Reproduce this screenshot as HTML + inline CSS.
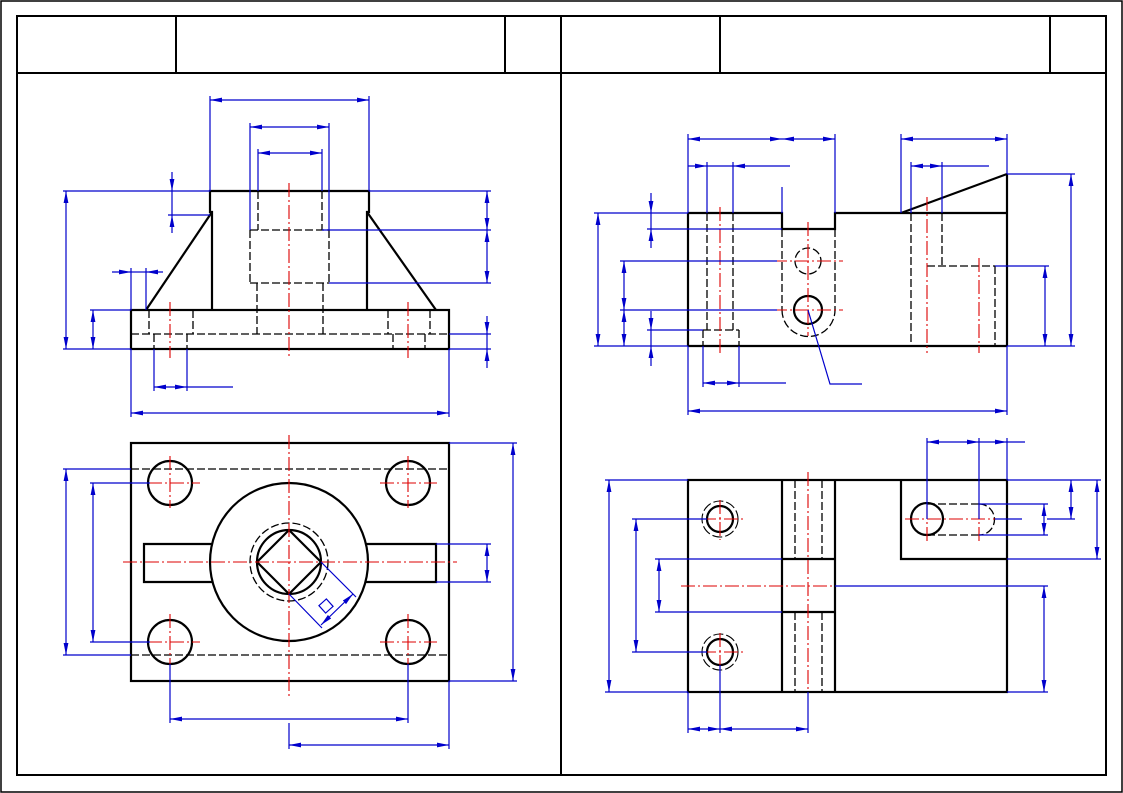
<!DOCTYPE html>
<html><head><meta charset="utf-8"><style>html,body{margin:0;padding:0;background:#fff}svg{display:block}</style></head>
<body>
<svg width="1123" height="793" viewBox="0 0 1123 793" xmlns="http://www.w3.org/2000/svg">
<defs>
<marker id="a" viewBox="0 0 12 6" refX="12" refY="3" markerWidth="12" markerHeight="6" markerUnits="userSpaceOnUse" orient="auto-start-reverse"><path d="M12,3 L0,0.6 L0,5.4 Z" fill="#0000cc"/></marker>
</defs>
<rect x="1" y="1" width="1121" height="791" fill="none" stroke="#000" stroke-width="1.5"/>
<g stroke="#000" stroke-width="2" fill="none">
<rect x="17" y="16" width="1089" height="759"/>
<line x1="17" y1="73" x2="1106" y2="73"/>
<line x1="561" y1="16" x2="561" y2="775"/>
<line x1="176" y1="16" x2="176" y2="73"/>
<line x1="505" y1="16" x2="505" y2="73"/>
<line x1="720" y1="16" x2="720" y2="73"/>
<line x1="1050" y1="16" x2="1050" y2="73"/>
</g>

<!-- ===== TOP LEFT VIEW ===== -->
<g stroke="#000" stroke-width="2.2" fill="none">
<polyline points="212,310 212,212 210,212 210,191 369,191 369,212 367,212 367,310"/>
<line x1="212" y1="212" x2="146" y2="310"/>
<line x1="367" y1="212" x2="436" y2="310"/>
<rect x="131" y="310" width="318" height="39"/>
</g>
<g stroke="#000" stroke-width="1.3" fill="none" stroke-dasharray="8 3">
<line x1="258" y1="191" x2="258" y2="230"/><line x1="322" y1="191" x2="322" y2="230"/>
<line x1="250" y1="230" x2="329" y2="230"/>
<line x1="250" y1="230" x2="250" y2="283"/><line x1="329" y1="230" x2="329" y2="283"/>
<line x1="250" y1="283" x2="329" y2="283"/>
<line x1="257" y1="283" x2="257" y2="334"/><line x1="323" y1="283" x2="323" y2="334"/>
<line x1="131" y1="334" x2="449" y2="334"/>
<line x1="149" y1="310" x2="149" y2="334"/><line x1="193" y1="310" x2="193" y2="334"/>
<line x1="154" y1="334" x2="154" y2="349"/><line x1="187" y1="334" x2="187" y2="349"/>
<line x1="388" y1="310" x2="388" y2="334"/><line x1="430" y1="310" x2="430" y2="334"/>
<line x1="393" y1="334" x2="393" y2="349"/><line x1="425" y1="334" x2="425" y2="349"/>
</g>
<g stroke="#d00" stroke-width="1.1" fill="none" stroke-dasharray="14 3 2 3">
<line x1="289" y1="183" x2="289" y2="358"/>
<line x1="170" y1="302" x2="170" y2="358"/>
<line x1="408" y1="302" x2="408" y2="358"/>
</g>
<g stroke="#0000cc" stroke-width="1.2" fill="none">
<line x1="210" y1="96" x2="210" y2="191"/><line x1="369" y1="96" x2="369" y2="191"/>
<line x1="210" y1="100" x2="369" y2="100" marker-start="url(#a)" marker-end="url(#a)"/>
<line x1="250" y1="123" x2="250" y2="230"/><line x1="329" y1="123" x2="329" y2="230"/>
<line x1="250" y1="127" x2="329" y2="127" marker-start="url(#a)" marker-end="url(#a)"/>
<line x1="258" y1="149" x2="258" y2="191"/><line x1="322" y1="149" x2="322" y2="191"/>
<line x1="258" y1="153" x2="322" y2="153" marker-start="url(#a)" marker-end="url(#a)"/>
<line x1="63" y1="191" x2="210" y2="191"/><line x1="63" y1="349" x2="131" y2="349"/>
<line x1="66" y1="191" x2="66" y2="349" marker-start="url(#a)" marker-end="url(#a)"/>
<line x1="168" y1="215" x2="210" y2="215"/>
<line x1="172" y1="172" x2="172" y2="191" marker-end="url(#a)"/>
<line x1="172" y1="233" x2="172" y2="215" marker-end="url(#a)"/>
<line x1="172" y1="191" x2="172" y2="215"/>
<line x1="90" y1="310" x2="131" y2="310"/>
<line x1="93" y1="310" x2="93" y2="349" marker-start="url(#a)" marker-end="url(#a)"/>
<line x1="131" y1="268" x2="131" y2="310"/><line x1="146" y1="268" x2="146" y2="310"/>
<line x1="112" y1="272" x2="131" y2="272" marker-end="url(#a)"/>
<line x1="163" y1="272" x2="146" y2="272" marker-end="url(#a)"/>
<line x1="131" y1="272" x2="146" y2="272"/>
<line x1="369" y1="191" x2="491" y2="191"/><line x1="322" y1="230" x2="491" y2="230"/><line x1="329" y1="283" x2="491" y2="283"/>
<line x1="487" y1="191" x2="487" y2="230" marker-start="url(#a)" marker-end="url(#a)"/>
<line x1="487" y1="230" x2="487" y2="283" marker-start="url(#a)" marker-end="url(#a)"/>
<line x1="449" y1="334" x2="491" y2="334"/><line x1="449" y1="349" x2="491" y2="349"/>
<line x1="487" y1="316" x2="487" y2="334" marker-end="url(#a)"/>
<line x1="487" y1="368" x2="487" y2="349" marker-end="url(#a)"/>
<line x1="487" y1="334" x2="487" y2="349"/>
<line x1="154" y1="349" x2="154" y2="391"/><line x1="187" y1="349" x2="187" y2="391"/>
<line x1="154" y1="387" x2="187" y2="387" marker-start="url(#a)" marker-end="url(#a)"/>
<line x1="187" y1="387" x2="233" y2="387"/>
<line x1="131" y1="349" x2="131" y2="417"/><line x1="449" y1="349" x2="449" y2="417"/>
<line x1="131" y1="413" x2="449" y2="413" marker-start="url(#a)" marker-end="url(#a)"/>
</g>

<!-- ===== BOTTOM LEFT VIEW ===== -->
<g stroke="#000" stroke-width="2.2" fill="none">
<rect x="131" y="443" width="318" height="238"/>
<circle cx="170" cy="483" r="22"/><circle cx="408" cy="483" r="22"/>
<circle cx="170" cy="642" r="22"/><circle cx="408" cy="642" r="22"/>
<circle cx="289" cy="562" r="79"/>
<polyline points="212,544 144,544 144,582 212,582"/>
<polyline points="366,544 436,544 436,582 366,582"/>
<circle cx="289" cy="562" r="32"/>
<polygon points="289,530 321,562 289,594 257,562"/>
</g>
<g stroke="#000" stroke-width="1.3" fill="none" stroke-dasharray="8 3">
<line x1="131" y1="469" x2="449" y2="469"/>
<line x1="131" y1="655" x2="449" y2="655"/>
<circle cx="289" cy="562" r="39"/>
</g>
<g stroke="#d00" stroke-width="1.1" fill="none" stroke-dasharray="14 3 2 3">
<line x1="123" y1="562" x2="457" y2="562"/>
<line x1="289" y1="435" x2="289" y2="698"/>
<line x1="148" y1="483" x2="200" y2="483"/><line x1="170" y1="456" x2="170" y2="508"/>
<line x1="380" y1="483" x2="437" y2="483"/><line x1="408" y1="456" x2="408" y2="508"/>
<line x1="148" y1="642" x2="200" y2="642"/><line x1="170" y1="614" x2="170" y2="665"/>
<line x1="380" y1="642" x2="437" y2="642"/><line x1="408" y1="614" x2="408" y2="665"/>
</g>
<g stroke="#0000cc" stroke-width="1.2" fill="none">
<line x1="63" y1="469" x2="131" y2="469"/><line x1="63" y1="655" x2="131" y2="655"/>
<line x1="66" y1="469" x2="66" y2="655" marker-start="url(#a)" marker-end="url(#a)"/>
<line x1="90" y1="483" x2="150" y2="483"/><line x1="90" y1="642" x2="150" y2="642"/>
<line x1="93" y1="483" x2="93" y2="642" marker-start="url(#a)" marker-end="url(#a)"/>
<line x1="449" y1="443" x2="517" y2="443"/><line x1="449" y1="681" x2="517" y2="681"/>
<line x1="513" y1="443" x2="513" y2="681" marker-start="url(#a)" marker-end="url(#a)"/>
<line x1="436" y1="544" x2="491" y2="544"/><line x1="436" y1="582" x2="491" y2="582"/>
<line x1="487" y1="544" x2="487" y2="582" marker-start="url(#a)" marker-end="url(#a)"/>
<line x1="170" y1="664" x2="170" y2="723"/><line x1="408" y1="664" x2="408" y2="723"/>
<line x1="170" y1="719" x2="408" y2="719" marker-start="url(#a)" marker-end="url(#a)"/>
<line x1="289" y1="723" x2="289" y2="749"/><line x1="449" y1="681" x2="449" y2="749"/>
<line x1="289" y1="745" x2="449" y2="745" marker-start="url(#a)" marker-end="url(#a)"/>
<line x1="321" y1="562" x2="356" y2="597"/>
<line x1="289" y1="594" x2="322" y2="628"/>
<line x1="321" y1="625" x2="353" y2="594" marker-start="url(#a)" marker-end="url(#a)"/>
<rect x="321" y="601" width="10" height="10" transform="rotate(-42 326 606)"/>
</g>

<!-- ===== TOP RIGHT VIEW ===== -->
<g stroke="#000" stroke-width="2.2" fill="none">
<polyline points="688,213 782,213 782,229 835,229 835,213 1007,213"/>
<line x1="688" y1="213" x2="688" y2="346"/>
<line x1="688" y1="346" x2="1007" y2="346"/>
<line x1="1007" y1="174" x2="1007" y2="346"/>
<line x1="901" y1="213" x2="1007" y2="174"/>
<circle cx="808" cy="310" r="14"/>
</g>
<g stroke="#000" stroke-width="1.3" fill="none" stroke-dasharray="8 3">
<line x1="707" y1="213" x2="707" y2="330"/><line x1="733" y1="213" x2="733" y2="330"/>
<line x1="703" y1="330" x2="739" y2="330"/>
<line x1="703" y1="330" x2="703" y2="346"/><line x1="739" y1="330" x2="739" y2="346"/>
<line x1="782" y1="229" x2="782" y2="310"/><line x1="835" y1="229" x2="835" y2="310"/>
<path d="M782,310 A26,26 0 0,0 835,310"/>
<circle cx="808" cy="261" r="13"/>
<line x1="911" y1="213" x2="911" y2="346"/>
<line x1="942" y1="213" x2="942" y2="266"/>
<line x1="927" y1="266" x2="995" y2="266"/>
<line x1="995" y1="266" x2="995" y2="346"/>
</g>
<g stroke="#d00" stroke-width="1.1" fill="none" stroke-dasharray="14 3 2 3">
<line x1="720" y1="207" x2="720" y2="353"/>
<line x1="808" y1="222" x2="808" y2="336"/>
<line x1="773" y1="261" x2="843" y2="261"/>
<line x1="773" y1="310" x2="843" y2="310"/>
<line x1="927" y1="197" x2="927" y2="353"/>
<line x1="979" y1="258" x2="979" y2="353"/>
</g>
<g stroke="#0000cc" stroke-width="1.2" fill="none">
<line x1="688" y1="134" x2="688" y2="213"/><line x1="782" y1="187" x2="782" y2="213"/><line x1="835" y1="134" x2="835" y2="213"/>
<line x1="688" y1="139" x2="782" y2="139" marker-start="url(#a)" marker-end="url(#a)"/>
<line x1="782" y1="139" x2="835" y2="139" marker-start="url(#a)" marker-end="url(#a)"/>
<line x1="707" y1="162" x2="707" y2="213"/><line x1="733" y1="162" x2="733" y2="213"/>
<line x1="688" y1="166" x2="707" y2="166" marker-end="url(#a)"/>
<line x1="790" y1="166" x2="733" y2="166" marker-end="url(#a)"/>
<line x1="707" y1="166" x2="733" y2="166"/>
<line x1="901" y1="134" x2="901" y2="213"/><line x1="1007" y1="134" x2="1007" y2="174"/>
<line x1="901" y1="139" x2="1007" y2="139" marker-start="url(#a)" marker-end="url(#a)"/>
<line x1="911" y1="162" x2="911" y2="213"/><line x1="942" y1="162" x2="942" y2="213"/>
<line x1="911" y1="166" x2="942" y2="166" marker-start="url(#a)" marker-end="url(#a)"/>
<line x1="942" y1="166" x2="989" y2="166"/>
<line x1="594" y1="213" x2="688" y2="213"/><line x1="594" y1="346" x2="688" y2="346"/>
<line x1="598" y1="213" x2="598" y2="346" marker-start="url(#a)" marker-end="url(#a)"/>
<line x1="647" y1="229" x2="782" y2="229"/>
<line x1="651" y1="193" x2="651" y2="213" marker-end="url(#a)"/>
<line x1="651" y1="248" x2="651" y2="229" marker-end="url(#a)"/>
<line x1="651" y1="213" x2="651" y2="229"/>
<line x1="620" y1="261" x2="777" y2="261"/><line x1="620" y1="310" x2="777" y2="310"/>
<line x1="624" y1="261" x2="624" y2="310" marker-start="url(#a)" marker-end="url(#a)"/>
<line x1="624" y1="310" x2="624" y2="346" marker-start="url(#a)" marker-end="url(#a)"/>
<line x1="647" y1="330" x2="703" y2="330"/>
<line x1="651" y1="311" x2="651" y2="330" marker-end="url(#a)"/>
<line x1="651" y1="366" x2="651" y2="346" marker-end="url(#a)"/>
<line x1="651" y1="330" x2="651" y2="346"/>
<line x1="995" y1="266" x2="1049" y2="266"/>
<line x1="1045" y1="266" x2="1045" y2="346" marker-start="url(#a)" marker-end="url(#a)"/>
<line x1="1007" y1="174" x2="1075" y2="174"/><line x1="1007" y1="346" x2="1075" y2="346"/>
<line x1="1071" y1="174" x2="1071" y2="346" marker-start="url(#a)" marker-end="url(#a)"/>
<line x1="703" y1="346" x2="703" y2="387"/><line x1="739" y1="346" x2="739" y2="387"/>
<line x1="703" y1="383" x2="739" y2="383" marker-start="url(#a)" marker-end="url(#a)"/>
<line x1="739" y1="383" x2="786" y2="383"/>
<polyline points="808,310 830,384 862,384"/>
<line x1="688" y1="346" x2="688" y2="415"/><line x1="1007" y1="346" x2="1007" y2="415"/>
<line x1="688" y1="411" x2="1007" y2="411" marker-start="url(#a)" marker-end="url(#a)"/>
</g>

<!-- ===== BOTTOM RIGHT VIEW ===== -->
<g stroke="#000" stroke-width="2.2" fill="none">
<rect x="688" y="480" width="319" height="212"/>
<line x1="782" y1="480" x2="782" y2="692"/><line x1="835" y1="480" x2="835" y2="692"/>
<line x1="782" y1="559" x2="835" y2="559"/><line x1="782" y1="612" x2="835" y2="612"/>
<polyline points="901,480 901,559 1007,559"/>
<circle cx="927" cy="519" r="16"/>
<circle cx="720" cy="519" r="13"/><circle cx="720" cy="652" r="13"/>
</g>
<g stroke="#000" stroke-width="1.3" fill="none" stroke-dasharray="8 3">
<line x1="795" y1="480" x2="795" y2="559"/><line x1="822" y1="480" x2="822" y2="559"/>
<line x1="795" y1="612" x2="795" y2="692"/><line x1="822" y1="612" x2="822" y2="692"/>
<line x1="927" y1="504" x2="979" y2="504"/><line x1="927" y1="535" x2="979" y2="535"/>
<path d="M979,504 A15.5,15.5 0 0,1 979,535"/>
</g>
<g stroke="#000" stroke-width="1.1" fill="none" stroke-dasharray="10 3">
<circle cx="720" cy="519" r="18"/><circle cx="720" cy="652" r="18"/>
</g>
<g stroke="#d00" stroke-width="1.1" fill="none" stroke-dasharray="14 3 2 3">
<line x1="808" y1="472" x2="808" y2="692"/>
<line x1="681" y1="586" x2="835" y2="586"/>
<line x1="702" y1="519" x2="743" y2="519"/><line x1="720" y1="500" x2="720" y2="540"/>
<line x1="702" y1="652" x2="743" y2="652"/><line x1="720" y1="633" x2="720" y2="673"/>
<line x1="905" y1="519" x2="995" y2="519"/>
<line x1="927" y1="505" x2="927" y2="543"/><line x1="979" y1="505" x2="979" y2="543"/>
</g>
<g stroke="#0000cc" stroke-width="1.2" fill="none">
<line x1="605" y1="480" x2="688" y2="480"/><line x1="605" y1="692" x2="688" y2="692"/>
<line x1="609" y1="480" x2="609" y2="692" marker-start="url(#a)" marker-end="url(#a)"/>
<line x1="632" y1="519" x2="707" y2="519"/><line x1="632" y1="652" x2="707" y2="652"/>
<line x1="636" y1="519" x2="636" y2="652" marker-start="url(#a)" marker-end="url(#a)"/>
<line x1="655" y1="559" x2="782" y2="559"/><line x1="655" y1="612" x2="782" y2="612"/>
<line x1="659" y1="559" x2="659" y2="612" marker-start="url(#a)" marker-end="url(#a)"/>
<line x1="835" y1="586" x2="1048" y2="586"/><line x1="1007" y1="692" x2="1048" y2="692"/>
<line x1="1044" y1="586" x2="1044" y2="692" marker-start="url(#a)" marker-end="url(#a)"/>
<line x1="979" y1="504" x2="1048" y2="504"/><line x1="979" y1="535" x2="1048" y2="535"/>
<line x1="1044" y1="504" x2="1044" y2="535" marker-start="url(#a)" marker-end="url(#a)"/>
<line x1="995" y1="519" x2="1022" y2="519"/><line x1="1047" y1="519" x2="1075" y2="519"/>
<line x1="1007" y1="480" x2="1101" y2="480"/>
<line x1="1071" y1="480" x2="1071" y2="519" marker-start="url(#a)" marker-end="url(#a)"/>
<line x1="1007" y1="559" x2="1101" y2="559"/>
<line x1="1097" y1="480" x2="1097" y2="559" marker-start="url(#a)" marker-end="url(#a)"/>
<line x1="927" y1="438" x2="927" y2="519"/><line x1="979" y1="438" x2="979" y2="519"/><line x1="1007" y1="438" x2="1007" y2="480"/>
<line x1="927" y1="442" x2="979" y2="442" marker-start="url(#a)" marker-end="url(#a)"/>
<line x1="979" y1="442" x2="1007" y2="442" marker-end="url(#a)"/>
<line x1="1007" y1="442" x2="1025" y2="442"/>
<line x1="688" y1="692" x2="688" y2="733"/><line x1="720" y1="665" x2="720" y2="733"/><line x1="808" y1="692" x2="808" y2="733"/>
<line x1="688" y1="729" x2="720" y2="729" marker-start="url(#a)" marker-end="url(#a)"/>
<line x1="720" y1="729" x2="808" y2="729" marker-start="url(#a)" marker-end="url(#a)"/>
</g>
</svg>
</body></html>
